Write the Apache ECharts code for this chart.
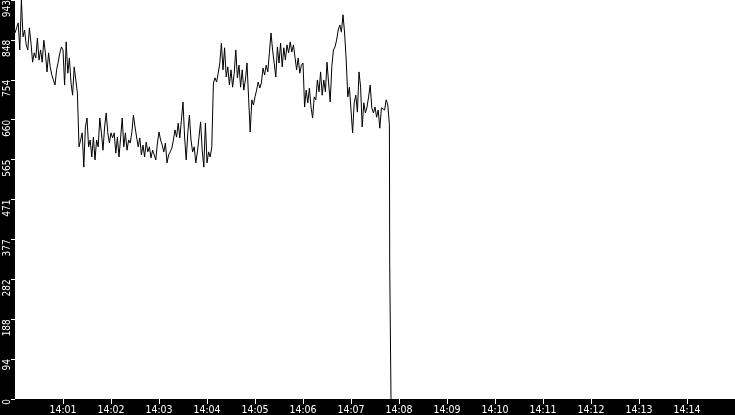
<!DOCTYPE html>
<html>
<head>
<meta charset="utf-8">
<script src="https://cdn.jsdelivr.net/npm/echarts@6/dist/echarts.min.js"></script>
<style>
html,body{margin:0;padding:0;background:#000;}
#chart{width:735px;height:415px;}
</style>
</head>
<body>
<div id="chart"></div>
<script>
// Sample step in seconds after 14:00:00 for the main series
const sampleStepSec = 2;
// Values (one every 2 s from 14:00:00)
const values = [
  865, 877, 889, 825, 943, 856, 872, 837, 825, 877,
  841, 796, 818, 806, 853, 801, 825, 796, 848, 818,
  773, 818, 785, 766, 754, 742, 778, 796, 818, 832,
  825, 742, 844, 770, 806, 747, 718, 785, 754, 723,
  596, 612, 629, 548, 643, 664, 596, 612, 572, 619,
  565, 612, 596, 664, 629, 588, 643, 676, 629, 605,
  629, 617, 629, 581, 619, 572, 617, 664, 596, 629,
  588, 612, 605, 629, 671, 643, 619, 596, 617, 577,
  600, 572, 607, 584, 596, 570, 588, 577, 565, 605,
  631, 612, 600, 584, 605, 558, 577, 584, 593, 612,
  636, 619, 652, 617, 659, 702, 619, 565, 629, 671,
  612, 584, 596, 558, 584, 619, 655, 588, 548, 652,
  558, 584, 572, 596, 747, 759, 749, 770, 794, 841,
  778, 830, 761, 785, 742, 778, 737, 770, 825, 759,
  789, 737, 778, 730, 754, 794, 711, 631, 707, 695,
  714, 730, 749, 735, 747, 782, 766, 789, 773, 818,
  865, 825, 794, 761, 832, 794, 841, 785, 830, 801,
  837, 818, 844, 820, 837, 808, 778, 806, 770, 789,
  794, 690, 730, 700, 735, 690, 664, 714, 707, 754,
  726, 773, 718, 754, 726, 796, 747, 702, 785, 825,
  832, 848, 872, 884, 867, 908, 865, 801, 714, 737,
  683, 629, 700, 718, 678, 773, 737, 643, 700, 676,
  690, 714, 742, 688, 676, 690, 666, 683, 640, 688,
  690, 683, 707, 695
];
// Final drop (seconds after 14:00:00, values)
const tailSeconds = [468, 468.4, 470];
const tailValues = [648, 317, 0];

// Tick labels
const xTickLabels = ['14:00','14:01','14:02','14:03','14:04','14:05','14:06','14:07','14:08','14:09','14:10','14:11','14:12','14:13','14:14','14:15'];
const yTickLabels = ['0','94','188','282','377','471','565','660','754','848','943'];

const data = values.map((v, i) => [i * sampleStepSec, v]);
tailSeconds.forEach((t, i) => data.push([t, tailValues[i]]));

const chart = echarts.init(document.getElementById('chart'), null, {renderer: 'canvas'});
const FONT = "'DejaVu Sans Condensed', 'DejaVu Sans', sans-serif";
chart.setOption({
  animation: false,
  backgroundColor: '#000',
  grid: {
    left: 15, right: 0, top: 0, bottom: 16,
    outerBoundsMode: 'none',
    containLabel: false,
    show: true, backgroundColor: '#fff', borderWidth: 0
  },
  xAxis: {
    type: 'value',
    min: 0, max: 900, interval: 60,
    axisLine: {show: false},
    axisTick: {show: true, length: 5, lineStyle: {color: '#fff', width: 1}},
    splitLine: {show: false},
    axisLabel: {
      color: '#fff', fontFamily: FONT, fontSize: 10.5, margin: 6,
      showMinLabel: false, showMaxLabel: false,
      formatter: (v) => xTickLabels[Math.round(v / 60)]
    }
  },
  yAxis: {
    type: 'value',
    min: 0, max: 943, interval: 94.3,
    axisLine: {show: false},
    axisTick: {show: true, length: 4, lineStyle: {color: '#fff', width: 1}},
    splitLine: {show: false},
    axisLabel: {
      color: '#fff', fontFamily: FONT, fontSize: 10, margin: 3,
      rotate: 90, align: 'right',
      formatter: (v, i) => yTickLabels[i]
    }
  },
  series: [{
    type: 'line',
    data: data,
    showSymbol: false,
    symbol: 'none',
    lineStyle: {color: '#000', width: 1},
    clip: true
  }]
});
</script>
</body>
</html>
